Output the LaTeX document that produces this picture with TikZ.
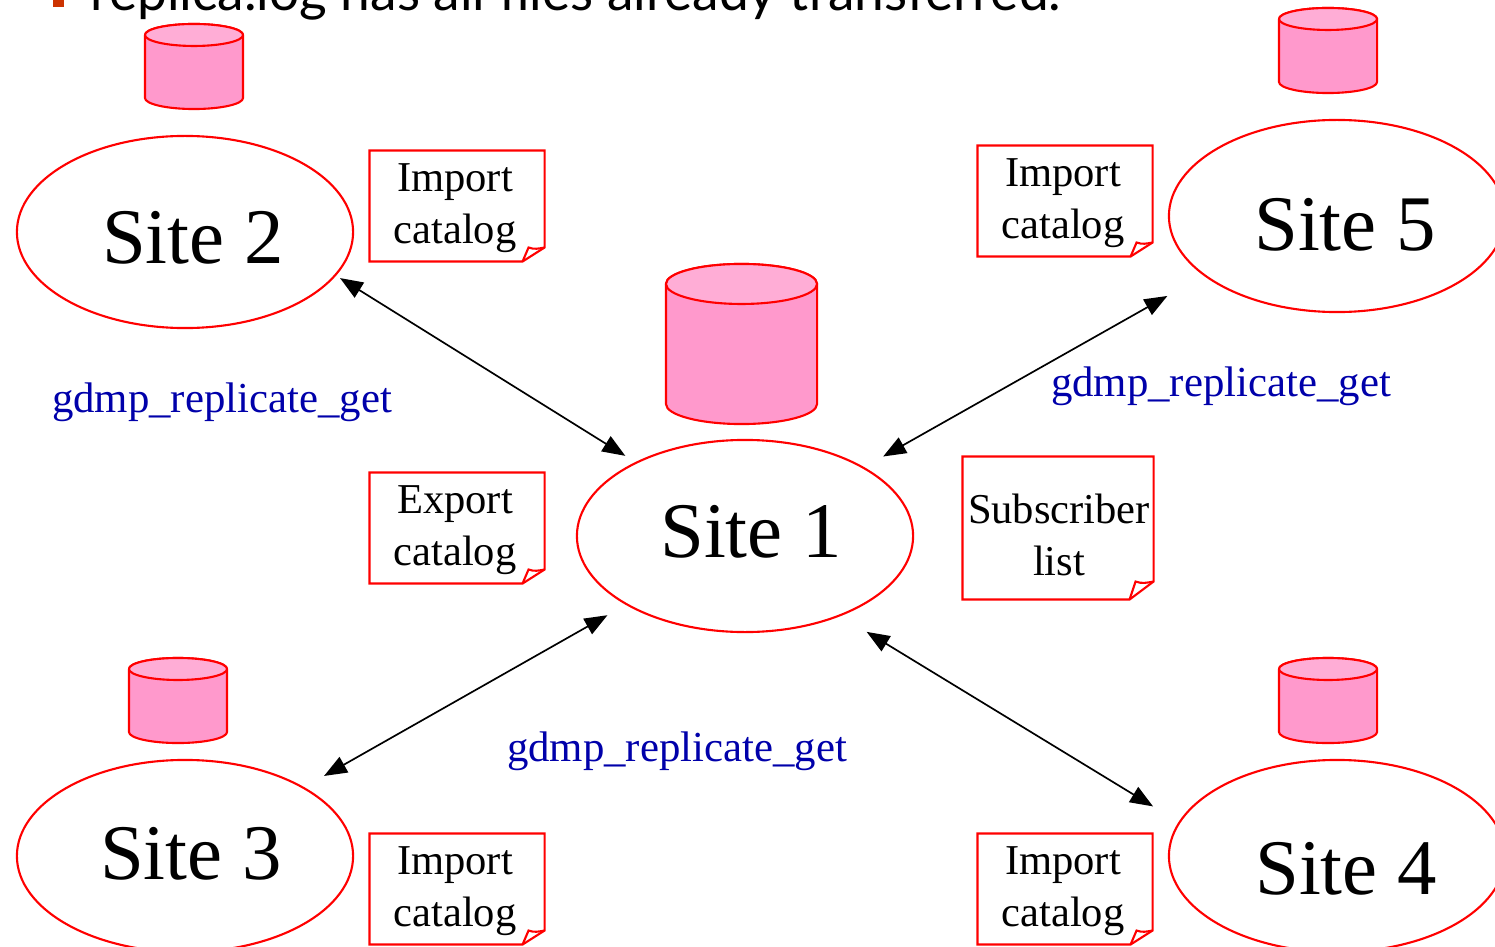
\documentclass[tikz,border=0pt]{standalone}
\usepackage{fontspec}
\setmainfont{Liberation Serif}
\newfontfamily\slidefont{Lato}
\usetikzlibrary{arrows.meta,shapes.geometric}
\definecolor{sitered}{RGB}{255,0,0}
\definecolor{dbbody}{RGB}{255,153,204}
\definecolor{dbtop}{RGB}{255,173,214}
\definecolor{cmdblue}{RGB}{0,0,170}
\definecolor{bulletred}{RGB}{204,51,0}
\tikzset{
siteshape/.style={ellipse, draw=sitered, line width=0.6pt, minimum width=3.36cm, minimum height=1.92cm, inner sep=0pt, outer sep=0pt},
sitetext/.style={anchor=base, font=\fontsize{22.4}{24}\selectfont, inner sep=0pt},
dbsmall/.style={inner sep=0pt, outer sep=0pt, minimum width=0.98cm, minimum height=0.85cm},
dblarge/.style={inner sep=0pt, outer sep=0pt, minimum width=1.51cm, minimum height=1.60cm},
dbline/.style={draw=sitered, line width=0.6pt, line join=round},
notetext/.style={align=center, inner sep=0pt, font=\fontsize{12.1}{14.8}\selectfont},
notebox/.style={inner sep=0pt, outer sep=0pt, minimum width=1.75cm, minimum height=1.11cm},
listbox/.style={inner sep=0pt, outer sep=0pt, minimum width=1.91cm, minimum height=1.43cm},
cmdtext/.style={anchor=base, inner sep=0pt, text=cmdblue, font=\fontsize{12.17}{14}\selectfont},
replica/.style={{Triangle[length=6.5pt,width=5pt]}-{Triangle[length=6.5pt,width=5pt]}, line width=0.48pt},
}
\newcommand{\notefold}[3]{
\draw[sitered, line width=0.6pt] (#1.north west) -- (#1.north east) -- ([yshift=#3]#1.south east) -- ([xshift=-#2]#1.south east) -- (#1.south west) -- cycle;
\draw[sitered, line width=0.6pt] ([xshift=-#2]#1.south east) -- ([xshift=-#2+0.06cm,yshift=#3]#1.south east) to[out=-20,in=190] ([yshift=#3]#1.south east);
}
\newcommand{\dbcan}[3]{
\path[dbline, fill=dbbody] ([yshift=-#3]#1.north west) -- ([yshift=#3]#1.south west) arc[start angle=180, end angle=360, x radius=#2, y radius=#3] -- ([yshift=-#3]#1.north east) arc[start angle=0, end angle=180, x radius=#2, y radius=#3] -- cycle;
\path[dbline, fill=dbtop] ([yshift=-#3]#1.north) ellipse[x radius=#2, y radius=#3];
}
\begin{document}
\begin{tikzpicture}[x=0.01cm,y=-0.01cm]
\useasboundingbox (0,0) rectangle (1495,946);
\clip (0,0) rectangle (1495,946);
% slide text cut off at the top
\fill[bulletred] (53,-3) rectangle (64,7);
\node[anchor=base west, inner sep=0pt, font=\slidefont\fontsize{15.15}{18}\selectfont] (slideline) at (90,11) {replica.log has all files already transferred.};
% sites
\node[siteshape] (site1) at (745,536) {};
\node[siteshape] (site2) at (185,232) {};
\node[siteshape] (site3) at (185,856) {};
\node[siteshape] (site4) at (1337,856) {};
\node[siteshape] (site5) at (1337,216) {};
\node[sitetext] (site1text) at (751,557) {Site 1};
\node[sitetext] (site2text) at (193,264) {Site 2};
\node[sitetext] (site3text) at (191,879) {Site 3};
\node[sitetext] (site4text) at (1346,894) {Site 4};
\node[sitetext] (site5text) at (1345,251) {Site 5};
% storage
\node[dblarge] (db1) at (741.5,344) {};
\node[dbsmall] (db2) at (194,66.5) {};
\node[dbsmall] (db3) at (178,700.5) {};
\node[dbsmall] (db4) at (1328,700.5) {};
\node[dbsmall] (db5) at (1328,50.5) {};
\dbcan{db1}{0.755cm}{0.20cm}
\dbcan{db2}{0.49cm}{0.11cm}
\dbcan{db3}{0.49cm}{0.11cm}
\dbcan{db4}{0.49cm}{0.11cm}
\dbcan{db5}{0.49cm}{0.11cm}
% catalogs
\node[notebox] (import2) at (457,206) {};
\node[notebox] (export1) at (457,528) {};
\node[listbox] (subscribers) at (1058,528) {};
\node[notebox] (import3) at (457,889) {};
\node[notebox] (import4) at (1065,889) {};
\node[notebox] (import5) at (1065,201) {};
\notefold{import2}{0.22cm}{0.14cm}
\notefold{export1}{0.22cm}{0.14cm}
\notefold{subscribers}{0.24cm}{0.18cm}
\notefold{import3}{0.22cm}{0.14cm}
\notefold{import4}{0.22cm}{0.14cm}
\notefold{import5}{0.22cm}{0.14cm}
\node[notetext] (import2text) at (455,208) {Import\\catalog};
\node[notetext] (export1text) at (455,530) {Export\\catalog};
\node[notetext] (subscriberstext) at (1059,535) {Subscriber\\list};
\node[notetext] (import3text) at (455,891) {Import\\catalog};
\node[notetext] (import4text) at (1063,891) {Import\\catalog};
\node[notetext] (import5text) at (1063,203) {Import\\catalog};
% transfers
\draw[replica, shorten <=1.6pt, shorten >=3.7pt] (site2.-16.9) -- (site1.146.1);
\draw[replica, shorten <=12.1pt, shorten >=6.5pt] (site5.204.8) -- (site1.30.5);
\draw[replica, shorten <=6.8pt, shorten >=6.3pt] (site3.30.9) -- (site1.210.7);
\draw[replica, shorten <=8.8pt, shorten >=9pt] (site4.168.2) -- (site1.-40.2);
\node[cmdtext] (get2) at (222,412) {gdmp\_replicate\_get};
\node[cmdtext] (get5) at (1221,396) {gdmp\_replicate\_get};
\node[cmdtext] (get3) at (677,761) {gdmp\_replicate\_get};
\end{tikzpicture}
\end{document}
